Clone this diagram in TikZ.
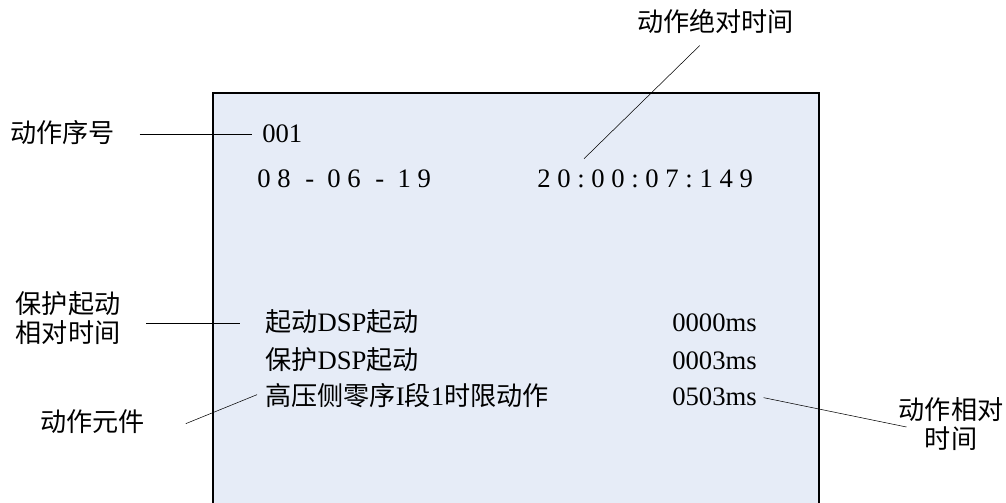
\documentclass[tikz,border=0pt]{standalone}
\usepackage{fontspec}
\setmainfont{Liberation Serif}
\newfontfamily\cjk[Scale=0.98]{Noto Sans CJK SC}
\newcommand{\fs}{\fontsize{20}{22}\selectfont}
\definecolor{panel}{RGB}{230,236,247}
\tikzset{lbl/.style={inner sep=0pt, anchor=base west, text height=15pt, text depth=4pt, font=\fs}}
\tikzset{wide/.style={lbl, font=\fs\addfontfeature{LetterSpace=25}}}

\begin{document}
\begin{tikzpicture}[x=0.75pt, y=-0.75pt]
\clip (0,0) rectangle (1006,503);
\draw[line width=0.9pt, fill=panel] (213,93) rectangle (819,520);
% screen contents
\node[lbl] (num) at (262,142) {001};
\node[wide] (date) at (257,187) {08\hspace{11pt}-\hspace{10pt}06\hspace{11pt}-\hspace{10pt}19};
\node[wide] (clock) at (537,187) {20:00:07:149};
\node[lbl] (r1) at (265,331) {{\cjk 起动}DSP{\cjk 起动}};
\node[lbl] (r2) at (265,369) {{\cjk 保护}DSP{\cjk 起动}};
\node[lbl] (r3) at (265,405) {{\cjk 高压侧零序}I{\cjk 段}1{\cjk 时限动作}};
\node[lbl] (ms1) at (672,331) {0000ms};
\node[lbl] (ms2) at (672,369) {0003ms};
\node[lbl] (ms3) at (672,405) {0503ms};
% labels
\node[lbl] (seq) at (10,142) {\cjk 动作序号};
\node[lbl] (abs) at (637,32) {\cjk 动作绝对时间};
\node[inner sep=0pt, align=center, font=\cjk\fs] (rel) at (68,318) {保护起动\\相对时间};
\node[lbl] (elem) at (40,431) {\cjk 动作元件};
\node[inner sep=0pt, align=center, font=\cjk\fs] (rt) at (951,424) {动作相对\\时间};
% leaders
\draw[shorten <=18.5pt, shorten >=7.5pt] (seq.east) -- (num.west);
\draw ([shift={(-16,8)}]abs.south) -- ([shift={(47,-8)}]clock.north west);
\draw[shorten <=19.4pt, shorten >=18.75pt] (rel.east |- r1.west) -- (r1.west);
\draw ([xshift=30.5pt]elem.east) -- ([shift={(-8,-3)}]r3.west);
\draw ([xshift=5pt]ms3.east) -- ([shift={(8,3)}]rt.west);
\end{tikzpicture}
\end{document}
